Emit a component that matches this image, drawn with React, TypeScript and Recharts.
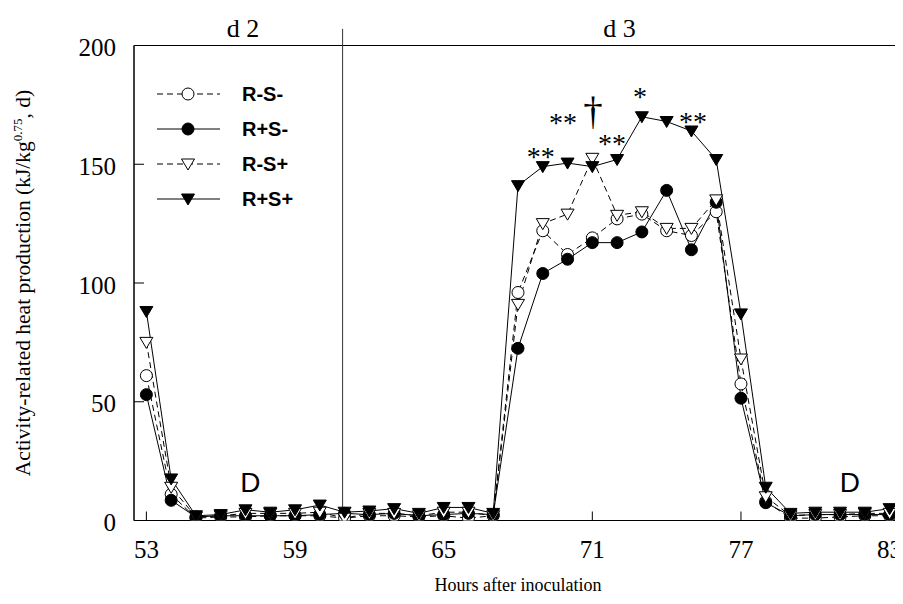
import React from "react";
import {
  LineChart,
  Line,
  XAxis,
  YAxis,
  ReferenceLine,
  ReferenceDot,
  ReferenceArea,
  Legend,
  Customized,
} from "recharts";

// ---------- data ----------
const hours = [53, 54, 55, 56, 57, 58, 59, 60, 61, 62, 63, 64, 65, 66, 67, 68, 69, 70, 71, 72, 73, 74, 75, 76, 77, 78, 79, 80, 81, 82, 83];
const rMinusSMinus = [61, 11, 1, 1.5, 1.5, 2, 2, 2, 1, 2, 2, 1.5, 2, 1, 2, 96, 122, 112, 119, 127, 129, 122, 120, 130, 57.5, 8, 1, 1, 1.5, 2, 2];
const rPlusSMinus = [53, 8.5, 1.5, 2, 2, 2, 2, 2.5, 3, 2.5, 3, 2, 2.5, 3, 2.5, 72.5, 104, 110, 117, 117, 121.5, 139, 114, 134, 51.5, 7.5, 2, 2.5, 2.5, 2.5, 2.5];
const rMinusSPlus = [75, 14, 1.5, 2, 3, 3, 3, 3.5, 1, 3, 3, 2, 3.5, 3.5, 2, 91, 125, 129, 152.5, 128.5, 130, 123, 123, 135, 68, 10, 2, 2.5, 2.5, 3, 3];
const rPlusSPlus = [88, 17.5, 2, 2.5, 4.5, 3.5, 4.5, 6.5, 3.5, 4, 5, 3, 5.5, 5.5, 3, 141, 149, 150.5, 149, 152, 170, 168, 164, 152, 87, 14, 3, 3.5, 3.5, 3.5, 5];

const seriesNames = ["R-S-", "R+S-", "R-S+", "R+S+"];
const xTicks = [53, 59, 65, 71, 77, 83];
const yTicks = [0, 50, 100, 150, 200];
const dayLabels = [
  { hour: 56.9, value: 203.6, text: "d 2" },
  { hour: 72.1, value: 203.6, text: "d 3" },
];
const dayDivider = 60.92;
const darkLabels = [
  { hour: 57.2, value: 12, text: "D" },
  { hour: 81.4, value: 12, text: "D" },
];
const significance = [
  { hour: 68.92, value: 149.3, text: "**" },
  { hour: 69.82, value: 163.6, text: "**" },
  { hour: 71.03, value: 167, text: "\u2020" },
  { hour: 71.79, value: 154.7, text: "**" },
  { hour: 72.92, value: 174.5, text: "*" },
  { hour: 75.06, value: 164, text: "**" },
];

const data = hours.map((h, i) => ({
  hour: h,
  rmsm: rMinusSMinus[i],
  rpsm: rPlusSMinus[i],
  rmsp: rMinusSPlus[i],
  rpsp: rPlusSPlus[i],
}));

const SERIF = "'Liberation Serif', 'Times New Roman', Times, serif";
const SANS = "'Liberation Sans', Arial, Helvetica, sans-serif";

type Kind = "circle" | "triangle";
const series: { key: string; name: string; kind: Kind; filled: boolean; dashed: boolean }[] = [
  { key: "rmsm", name: seriesNames[0], kind: "circle", filled: false, dashed: true },
  { key: "rpsm", name: seriesNames[1], kind: "circle", filled: true, dashed: false },
  { key: "rmsp", name: seriesNames[2], kind: "triangle", filled: false, dashed: true },
  { key: "rpsp", name: seriesNames[3], kind: "triangle", filled: true, dashed: false },
];

const Marker = ({ cx, cy, kind, filled }: { cx: number; cy: number; kind: Kind; filled: boolean }) => {
  const fill = filled ? "#000" : "#fff";
  if (kind === "circle") {
    return <circle cx={cx} cy={cy} r={6} fill={fill} stroke="#000" strokeWidth={1} />;
  }
  return (
    <path
      d={`M${cx - 6.5},${cy - 5}L${cx + 6.5},${cy - 5}L${cx},${cy + 6}Z`}
      fill={fill}
      stroke="#000"
      strokeWidth={1}
    />
  );
};

const makeDot = (kind: Kind, filled: boolean) => (props: any) => {
  const { cx, cy, index } = props;
  if (cx == null || cy == null) return <g key={`d${index}`} />;
  return (
    <g key={`d${index}`}>
      <Marker cx={cx} cy={cy} kind={kind} filled={filled} />
    </g>
  );
};

const XTick = (props: any) => {
  const { x, y, payload } = props;
  return (
    <text x={x} y={y + 37} textAnchor="middle" fontFamily={SERIF} fontSize={25} fill="#000">
      {payload.value}
    </text>
  );
};

const YTick = (props: any) => {
  const { x, y, payload } = props;
  return (
    <text x={x - 18} y={y + 10.5} textAnchor="end" fontFamily={SERIF} fontSize={25} fill="#000">
      {payload.value}
    </text>
  );
};

const textShape = (text: string, fontSize: number, family: string) => (props: any) => {
  const { cx, cy } = props;
  return (
    <text x={cx} y={cy} textAnchor="middle" fontFamily={family} fontSize={fontSize} fill="#000">
      {text}
    </text>
  );
};

const LegendBox = () => (
  <svg width={200} height={150}>
    {series.map((s, i) => {
      const cy = 16 + 35 * i;
      return (
        <g key={s.key}>
          <line
            x1={4}
            x2={67}
            y1={cy}
            y2={cy}
            stroke="#000"
            strokeWidth={1}
            strokeDasharray={s.dashed ? "6 4" : undefined}
          />
          <Marker cx={35} cy={cy} kind={s.kind} filled={s.filled} />
          <text x={89} y={cy + 7} fontFamily={SANS} fontWeight="bold" fontSize={20} fill="#000">
            {s.name}
          </text>
        </g>
      );
    })}
  </svg>
);

const Titles = () => (
  <g>
    <text
      transform="translate(22, 275) rotate(-90)"
      textAnchor="middle"
      fontFamily={SERIF}
      fontSize={21.5}
      fill="#000"
    >
      Activity-related heat production (kJ/kg
      <tspan dy={-8} fontSize={13}>0.75</tspan>
      <tspan dy={8}>, d)</tspan>
    </text>
    <text x={510} y={583} textAnchor="middle" fontFamily={SERIF} fontSize={18} fill="#000">
      Hours after inoculation
    </text>
  </g>
);

export default function App() {
  return (
    <LineChart
      width={895}
      height={588}
      data={data}
      margin={{ top: 37.5, right: 1, bottom: 15.5, left: 0 }}
    >
      <ReferenceArea
        x1={52.5}
        x2={83.5}
        y1={0}
        y2={200}
        fill="none"
        stroke="#000"
        strokeWidth={1}
        ifOverflow="visible"
      />
      <XAxis
        dataKey="hour"
        type="number"
        domain={[52.5, 83.5]}
        ticks={xTicks}
        allowDataOverflow
        height={60}
        tickSize={-9}
        tickMargin={9}
        tick={<XTick />}
        axisLine={{ stroke: "#000", strokeWidth: 1 }}
        tickLine={{ stroke: "#000", strokeWidth: 1 }}
        interval={0}
      />
      <YAxis
        type="number"
        domain={[0, 200]}
        ticks={yTicks}
        allowDataOverflow
        width={126}
        tickSize={-10}
        tickMargin={10}
        tick={<YTick />}
        axisLine={{ stroke: "#000", strokeWidth: 1 }}
        tickLine={{ stroke: "#000", strokeWidth: 1 }}
        interval={0}
      />
      <ReferenceLine
        segment={[
          { x: dayDivider, y: 0 },
          { x: dayDivider, y: 207 },
        ]}
        stroke="#333"
        strokeWidth={1}
        ifOverflow="visible"
      />
      {series.map((s) => (
        <Line
          key={s.key}
          dataKey={s.key}
          name={s.name}
          type="linear"
          stroke="#000"
          strokeWidth={1}
          strokeDasharray={s.dashed ? "6 4" : undefined}
          dot={makeDot(s.kind, s.filled)}
          activeDot={false}
          isAnimationActive={false}
        />
      ))}
      {dayLabels.map((d, i) => (
        <ReferenceDot
          key={`day${i}`}
          x={d.hour}
          y={d.value}
          r={0}
          ifOverflow="visible"
          shape={textShape(d.text, 26, SERIF)}
        />
      ))}
      {darkLabels.map((d, i) => (
        <ReferenceDot
          key={`dark${i}`}
          x={d.hour}
          y={d.value}
          r={0}
          ifOverflow="visible"
          shape={textShape(d.text, 28, SANS)}
        />
      ))}
      {significance.map((d, i) => (
        <ReferenceDot
          key={`sig${i}`}
          x={d.hour}
          y={d.value}
          r={0}
          ifOverflow="visible"
          shape={textShape(d.text, d.text === "\u2020" ? 39 : 28, SERIF)}
        />
      ))}
      <Legend
        layout="vertical"
        align="center"
        verticalAlign="middle"
        content={() => <LegendBox />}
        wrapperStyle={{ position: "absolute", left: 145, top: 70, width: 200, height: 150 }}
      />
      <Customized component={Titles} />
    </LineChart>
  );
}
